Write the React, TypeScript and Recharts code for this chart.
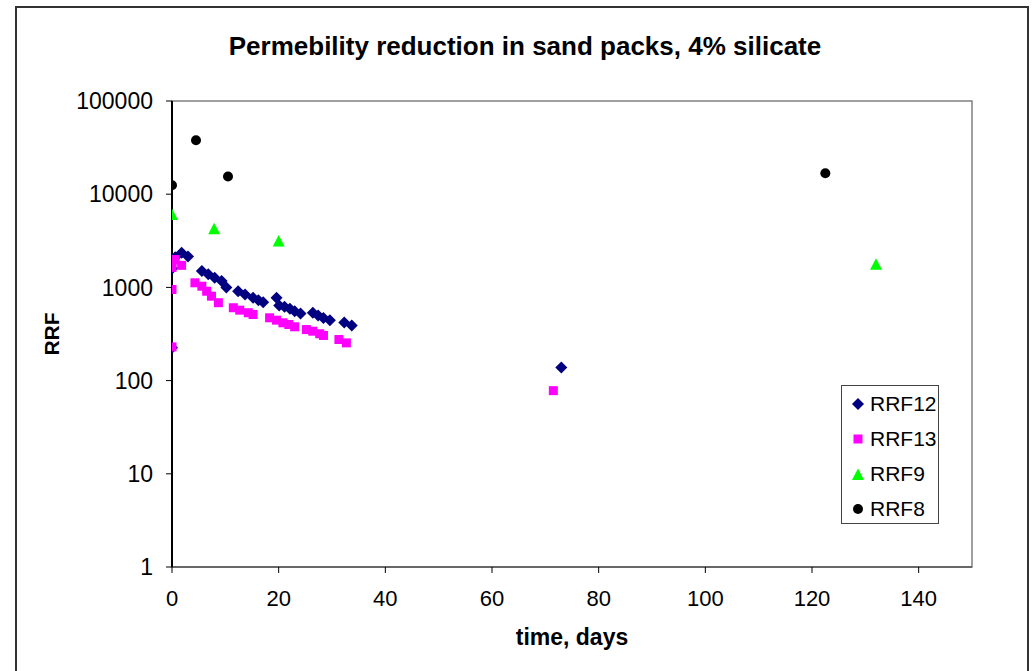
import {
  ReferenceArea,
  Scatter,
  ScatterChart,
  XAxis,
  YAxis,
} from "recharts";

const rrf12Days = [0, 0, 0.6, 1.8, 3.0, 5.6, 6.8, 8.0, 9.3, 10.2, 12.4, 13.7, 15.2, 16.2, 17.1, 19.6, 20.1, 21.1, 22.1, 23.0, 24.1, 26.4, 27.4, 28.4, 29.6, 32.3, 33.7, 73];
const rrf12Values = [225, 1600, 2100, 2350, 2150, 1500, 1380, 1270, 1170, 1000, 910, 840, 775, 730, 695, 775, 640, 620, 590, 555, 525, 535, 500, 470, 445, 420, 390, 138];

const rrf13Days = [0, 0, 0, 0, 0.6, 1.8, 4.3, 5.6, 6.5, 7.4, 8.7, 11.5, 12.7, 14.3, 15.2, 18.3, 19.6, 20.8, 21.9, 23.0, 25.2, 26.4, 27.7, 28.4, 31.3, 32.7, 71.5];
const rrf13Values = [230, 950, 1640, 1900, 1990, 1725, 1120, 1030, 910, 805, 685, 605, 570, 535, 512, 472, 445, 417, 400, 378, 353, 339, 318, 305, 276, 254, 78];

const rrf9Days = [0, 7.9, 20, 132];
const rrf9Values = [6000, 4200, 3100, 1750];

const rrf8Days = [0, 4.5, 10.5, 122.5];
const rrf8Values = [12500, 38000, 15500, 16800];

const xTicks = [0, 20, 40, 60, 80, 100, 120, 140];
const yTicks = [1, 10, 100, 1000, 10000, 100000];

const toPoints = (days: number[], values: number[]) =>
  days.map((d, i) => ({ x: d, y: values[i] }));

const FONT = '"Liberation Sans", Arial, sans-serif';

const Diamond = (p: any) => (
  <polygon
    points={`${p.cx},${p.cy - 6} ${p.cx + 6},${p.cy} ${p.cx},${p.cy + 6} ${p.cx - 6},${p.cy}`}
    fill="#000080"
  />
);
const Square = (p: any) => (
  <rect x={p.cx - 4.5} y={p.cy - 4.5} width={9} height={9} fill="#FF00FF" />
);
const Triangle = (p: any) => (
  <polygon
    points={`${p.cx},${p.cy - 6.5} ${p.cx + 6},${p.cy + 5} ${p.cx - 6},${p.cy + 5}`}
    fill="#00FF00"
  />
);
const Dot = (p: any) => <circle cx={p.cx} cy={p.cy} r={5} fill="#000000" />;

const legendItems = [
  { name: "RRF12", shape: "diamond" },
  { name: "RRF13", shape: "square" },
  { name: "RRF9", shape: "triangle" },
  { name: "RRF8", shape: "circle" },
];

function LegendIcon({ shape }: { shape: string }) {
  return (
    <svg width={14} height={14} style={{ display: "block" }}>
      {shape === "diamond" && <Diamond cx={7} cy={7} />}
      {shape === "square" && <rect x={2.5} y={2.5} width={9} height={9} fill="#FF00FF" />}
      {shape === "triangle" && <Triangle cx={7} cy={8} />}
      {shape === "circle" && <Dot cx={7} cy={7} />}
    </svg>
  );
}

export default function App() {
  return (
    <div
      style={{
        position: "absolute",
        left: 0,
        top: 0,
        width: 1036,
        height: 671,
        background: "#fff",
        overflow: "hidden",
        fontFamily: FONT,
      }}
    >
      <div
        style={{
          position: "absolute",
          left: 15,
          top: 6,
          width: 1014,
          height: 700,
          border: "2px solid #333",
          boxSizing: "border-box",
        }}
      />
      <div
        style={{
          position: "absolute",
          left: 0,
          width: 1050,
          top: 31,
          textAlign: "center",
          fontWeight: "bold",
          fontSize: 26,
          color: "#000",
        }}
      >
        Permebility reduction in sand packs, 4% silicate
      </div>
      <div style={{ position: "absolute", left: 0, top: 0 }}>
        <ScatterChart
          width={1036}
          height={671}
          margin={{ top: 101, right: 64, bottom: 24, left: 42 }}
        >
          <ReferenceArea
            x1={0}
            x2={150}
            y1={1}
            y2={100000}
            fill="none"
            stroke="#808080"
            strokeWidth={1.5}
            ifOverflow="visible"
          />
          <XAxis
            type="number"
            dataKey="x"
            domain={[0, 150]}
            ticks={xTicks}
            allowDataOverflow
            height={80}
            tickSize={6}
            tickMargin={17}
            axisLine={{ stroke: "#555", strokeWidth: 1.5 }}
            tickLine={{ stroke: "#000" }}
            tick={{ fill: "#000", fontSize: 22, fontFamily: FONT }}
            label={{
              value: "time, days",
              position: "insideBottom",
              offset: 2,
              style: { fill: "#000", fontSize: 23, fontWeight: "bold", fontFamily: FONT },
            }}
          />
          <YAxis
            type="number"
            dataKey="y"
            scale="log"
            domain={[1, 100000]}
            ticks={yTicks}
            allowDataOverflow
            width={130}
            tickSize={6}
            tickMargin={13}
            axisLine={{ stroke: "#000", strokeWidth: 2 }}
            tickLine={{ stroke: "#000" }}
            tick={{ fill: "#000", fontSize: 23, fontFamily: FONT }}
            label={{
              value: "RRF",
              angle: -90,
              position: "insideLeft",
              offset: 10,
              style: { textAnchor: "middle", fill: "#000", fontSize: 21, fontWeight: "bold", fontFamily: FONT },
            }}
          />
          <Scatter name="RRF12" data={toPoints(rrf12Days, rrf12Values)} shape={Diamond} isAnimationActive={false} />
          <Scatter name="RRF13" data={toPoints(rrf13Days, rrf13Values)} shape={Square} isAnimationActive={false} />
          <Scatter name="RRF9" data={toPoints(rrf9Days, rrf9Values)} shape={Triangle} isAnimationActive={false} />
          <Scatter name="RRF8" data={toPoints(rrf8Days, rrf8Values)} shape={Dot} isAnimationActive={false} />
        </ScatterChart>
      </div>
      <div
        style={{
          position: "absolute",
          left: 841,
          top: 385,
          width: 98,
          height: 139,
          border: "1px solid #444",
          boxSizing: "border-box",
          paddingTop: 0,
        }}
      >
        {legendItems.map((item) => (
          <div
            key={item.name}
            style={{ display: "flex", alignItems: "center", height: 35, paddingLeft: 9 }}
          >
            <LegendIcon shape={item.shape} />
            <span style={{ marginLeft: 5, fontSize: 21, color: "#000" }}>{item.name}</span>
          </div>
        ))}
      </div>
    </div>
  );
}
